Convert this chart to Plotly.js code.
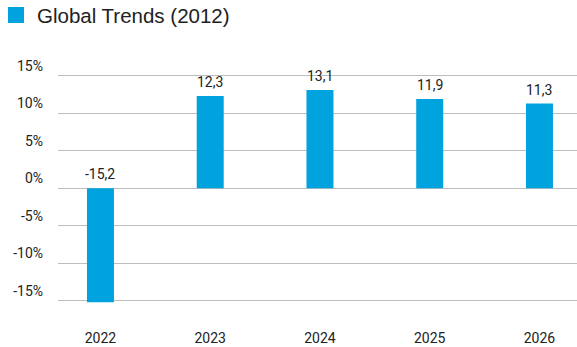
<!DOCTYPE html>
<html>
<head>
<meta charset="utf-8">
<script src="https://cdn.plot.ly/plotly-3.0.1.min.js"></script>
<style>html,body{margin:0;padding:0;background:#fff;}#chart{width:577px;height:347px;}</style>
</head>
<body>
<div id="chart"></div>
<script>
var seriesName = 'Global Trends (2012)';
var categories = ['2022', '2023', '2024', '2025', '2026'];
var values = [-15.2, 12.3, 13.1, 11.9, 11.3];
var yTickVals = [-15, -10, -5, 0, 5, 10, 15];
var yTickText = ['-15%', '-10%', '-5%', '0%', '5%', '10%', '15%'];

var barColor = '#00a3de';
var textColor = '#222222';

var trace = {
  type: 'bar',
  name: seriesName,
  x: categories,
  y: values,
  width: 0.246,
  marker: {color: barColor},
  hoverinfo: 'none'
};

var annotations = categories.map(function (c, i) {
  return {
    x: i, y: Math.max(values[i], 0), xref: 'x', yref: 'y',
    text: values[i].toFixed(1).replace('.', ','),
    showarrow: false, yanchor: 'bottom', yshift: 4,
    font: {family: 'Roboto', size: 14, color: textColor}
  };
});
annotations.push({
  xref: 'paper', yref: 'paper', x: -58/519 + 35/519, y: 1 + 55/250,
  xanchor: 'left', yanchor: 'middle',
  text: seriesName, showarrow: false,
  font: {family: 'Liberation Sans, Arial, sans-serif', size: 20.5, color: textColor}
});

var layout = {
  width: 577, height: 347,
  margin: {l: 58, r: 0, t: 70, b: 27},
  paper_bgcolor: '#ffffff', plot_bgcolor: '#ffffff',
  showlegend: false,
  xaxis: {
    type: 'category',
    range: [-0.387, 4.342],
    showgrid: false, zeroline: false, showline: false, ticks: '',
    tickfont: {family: 'Roboto', size: 14, color: textColor},
    ticklabelstandoff: 8
  },
  yaxis: {
    range: [-17.56, 15.77],
    tickvals: yTickVals, ticktext: yTickText,
    showgrid: true, gridcolor: '#bdbdbd', gridwidth: 1.3,
    zeroline: false, showline: false, ticks: '',
    ticklabelposition: 'outside top',
    tickfont: {family: 'Roboto', size: 14, color: textColor},
    ticklabelstandoff: 14
  },
  shapes: [{
    type: 'rect', xref: 'paper', yref: 'paper',
    x0: -50/519, x1: -34/519, y0: 1 + 47/250, y1: 1 + 63/250,
    fillcolor: barColor, line: {width: 0}
  }],
  annotations: annotations
};

Plotly.newPlot('chart', [trace], layout, {displayModeBar: false, staticPlot: true});
</script>
</body>
</html>
